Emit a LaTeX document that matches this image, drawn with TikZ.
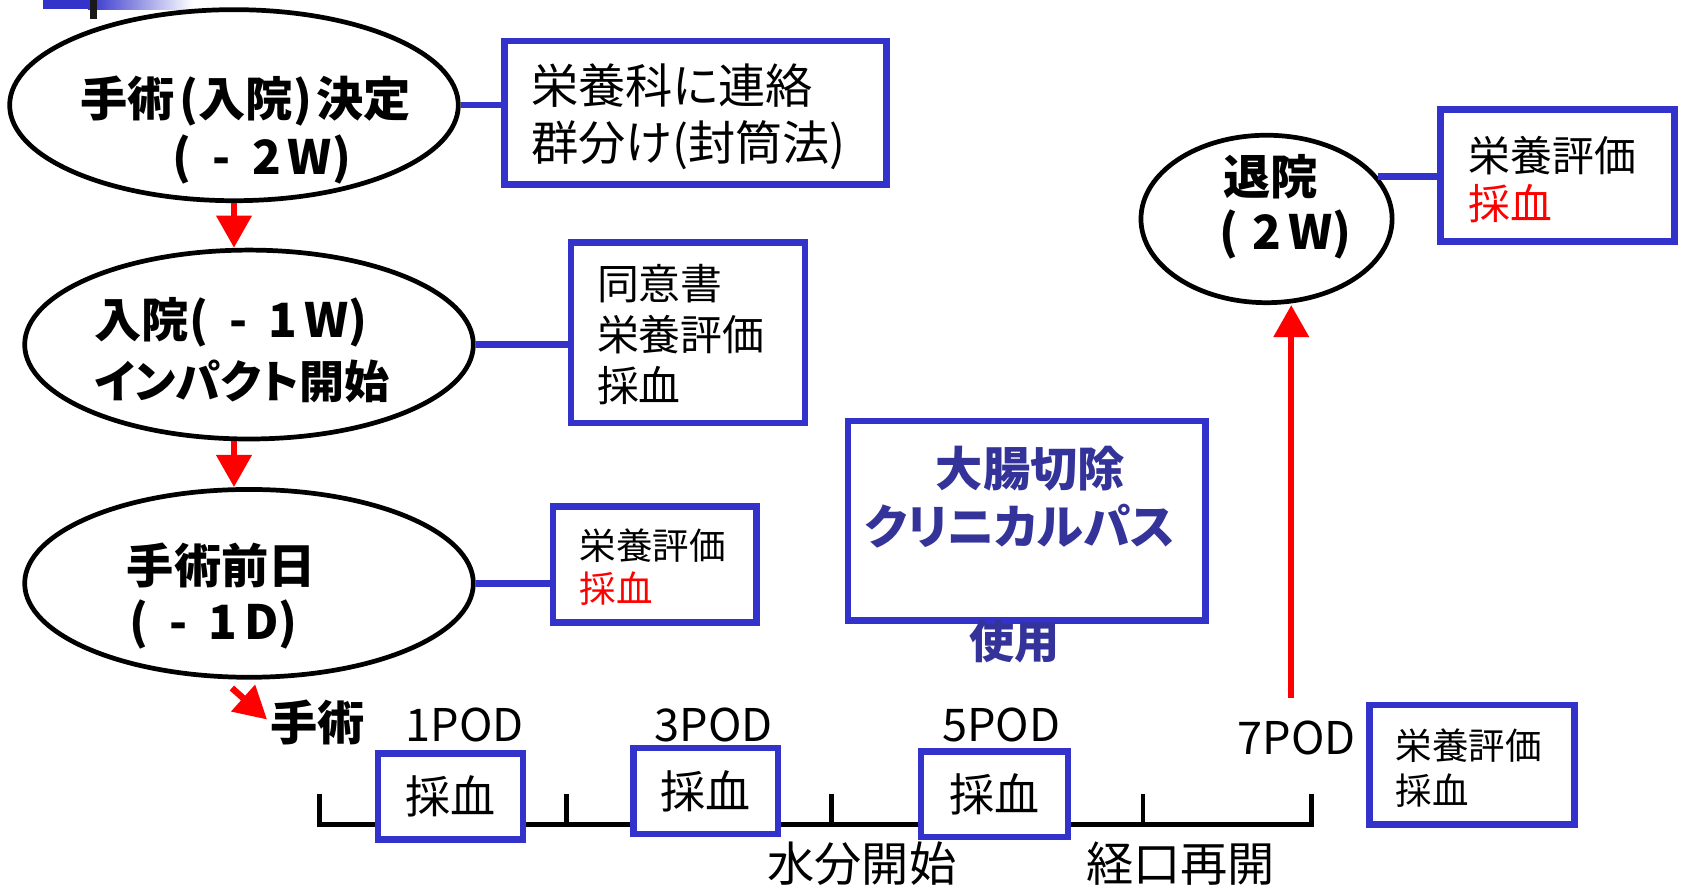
\documentclass[tikz,border=0pt]{standalone}
\usepackage{fontspec}
\setmainfont{Noto Sans CJK JP}[RawFeature={+palt}]
\usetikzlibrary{shapes.geometric,arrows.meta}
\definecolor{bxblue}{RGB}{51,51,204}
\definecolor{txblue}{RGB}{51,51,153}
\begin{document}
\begin{tikzpicture}[x=1pt,y=-1pt,
  ell/.style={draw=black,line width=4.4pt,ellipse,inner sep=0pt,fill=white},
  bbox/.style={draw=bxblue,line width=6pt,rectangle,inner sep=0pt,fill=white},
  bline/.style={draw=bxblue,line width=6pt},
  rarrow/.style={draw=red,line width=6pt,-{Triangle[width=32pt,length=30pt]}},
  tl/.style={draw=black,line width=4.4pt},
  etxt/.style={font=\fontsize{44}{53}\selectfont\bfseries,inner sep=0pt,align=left},
  btxt/.style={inner sep=0pt,align=left,anchor=west},
  lbl/.style={font=\fontsize{42}{50}\selectfont,inner sep=0pt}
]
\useasboundingbox (0,0) rectangle (1568,829);
% top-left title bar fragment
\fill[bxblue] (40,0) rectangle (82,8.5);
\shade[left color=bxblue,right color=white] (82,0) rectangle (180,8.5);
\fill[black!90] (84,0) rectangle (90,18);

% ellipses
\node[ell,minimum width=418pt,minimum height=178pt] (e1) at (218,98) {};
\node[ell,minimum width=418pt,minimum height=176pt] (e2) at (232,321) {};
\node[ell,minimum width=418pt,minimum height=175pt] (e3) at (232,543.5) {};
\node[ell,minimum width=234pt,minimum height=156pt] (e4) at (1180,204) {};

\node[etxt] (e1a) at (229,94) {手術\hspace{.1em}(入院)\hspace{.1em}決定};
\node[etxt] (e1b) at (244,149) {(\hspace{.45em}-\hspace{.45em}2\hspace{.15em}W)};
\node[etxt,anchor=west] (e2a) at (88,300) {入院(\hspace{.45em}-\hspace{.45em}1\hspace{.15em}W)};
\node[etxt,anchor=west,font=\fontsize{42}{53}\selectfont\bfseries] (e2b) at (88,355) {インパクト開始};
\node[etxt,anchor=west] (e3a) at (118,527) {手術前日};
\node[etxt,anchor=west] (e3b) at (120,582) {(\hspace{.45em}-\hspace{.45em}1\hspace{.15em}D)};
\node[etxt] (e4a) at (1184,165) {退院};
\node[etxt] (e4b) at (1198,218) {(\hspace{.3em}2\hspace{.15em}W)};

% boxes
\node[bbox,minimum width=356pt,minimum height=134pt] (b1) at (648,105) {};
\node[btxt,font=\fontsize{44}{53}\selectfont] (b1t) at (495,108.5) {栄養科に連絡\\群分け(封筒法)};
\node[bbox,minimum width=218pt,minimum height=168pt] (b2) at (641,310) {};
\node[btxt,font=\fontsize{39}{47.5}\selectfont] (b2t) at (556,312) {同意書\\栄養評価\\採血};
\node[bbox,minimum width=190pt,minimum height=108pt] (b3) at (610,526) {};
\node[btxt,font=\fontsize{34}{40}\selectfont] (b3t) at (540,528) {栄養評価\\\textcolor{red}{採血}};
\node[bbox,minimum width=218pt,minimum height=123pt] (b4) at (1451,163.5) {};
\node[btxt,font=\fontsize{39}{45}\selectfont] (b4t) at (1368,167.5) {栄養評価\\\textcolor{red}{採血}};
\node[bbox,minimum width=191pt,minimum height=111pt] (b7) at (1371.5,712.5) {};
\node[btxt,font=\fontsize{34}{42}\selectfont] (b7t) at (1300,716) {栄養評価\\採血};

% connectors
\draw[bline] (e1.east) -- (e1.east -| b1.west);
\draw[bline] (e2.east) -- (e2.east -| b2.west);
\draw[bline] (e3.east) -- (e3.east -| b3.west);
\draw[bline] (e4.21) -- (e4.21 -| b4.west);

% clinical path box
\node[bbox,minimum width=333pt,minimum height=186pt] (pb) at (956.5,485) {};
\node[font=\fontsize{44}{53}\selectfont\bfseries,text=txblue,inner sep=0pt] (pb1) at (960,437) {大腸切除};
\node[font=\fontsize{44}{53}\selectfont\bfseries,text=txblue,inner sep=0pt] (pb2) at (950,490) {クリニカルパス};
\node[font=\fontsize{42}{50}\selectfont\bfseries,text=txblue,inner sep=0pt] (pb3) at (945,598) {使用};

% timeline
\coordinate (t0) at (298,768);
\coordinate (t1) at (1222,768);
\draw[tl] (t0) ++(0,-28) -- (t0) -- (t1) -- ++(0,-28);
\foreach \tx in {528,775,1065} \draw[tl] (\tx,768) -- (\tx,740);

\node[bbox,minimum width=135pt,minimum height=80pt,font=\fontsize{42}{50}\selectfont] (s1) at (419.5,742) {採血};
\node[bbox,minimum width=135pt,minimum height=80pt,font=\fontsize{42}{50}\selectfont] (s2) at (657.5,737) {採血};
\node[bbox,minimum width=137pt,minimum height=80pt,font=\fontsize{42}{50}\selectfont] (s3) at (926.5,740) {採血};

\node[etxt] (sx) at (296,673) {手術};
\node[lbl] (l1) at (433,675) {1POD};
\node[lbl] (l3) at (665,675) {3POD};
\node[lbl] (l5) at (933,675) {5POD};
\node[lbl] (l7) at (1208,688) {7POD};
\node[lbl,font=\fontsize{44}{53}\selectfont] (w1) at (803,805) {水分開始};
\node[lbl,font=\fontsize{44}{53}\selectfont] (w2) at (1100,805) {経口再開};

% red arrows
\draw[rarrow] (e1.south) -- (e1.south |- e2.north);
\draw[rarrow] (e1.south |- e2.south) -- (e1.south |- e3.north);
\coordinate (a3) at (216,641);
\draw[rarrow,shorten >=4pt] (a3) -- (sx.west);
\coordinate (a7) at (1203,650);
\draw[rarrow] (a7) -- (a7 |- e4.south);
\end{tikzpicture}
\end{document}
